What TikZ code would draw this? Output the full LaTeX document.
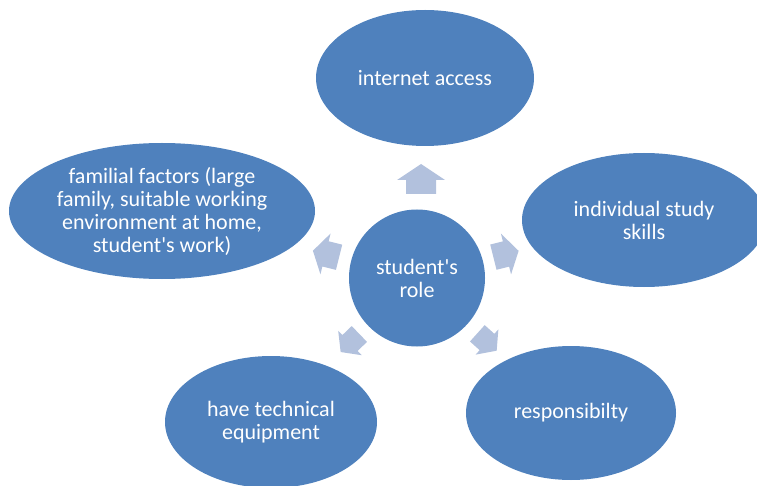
\documentclass[tikz,border=0pt]{standalone}
\usepackage{fontspec}
\setmainfont{Carlito}[Ligatures=TeXOff]
\usetikzlibrary{shapes.geometric}
\definecolor{ellblue}{RGB}{79,129,189}
\definecolor{arrblue}{RGB}{178,193,221}
\tikzset{
  bubble/.style={ellipse, fill=ellblue, draw=none, text=white, align=center,
    inner sep=0pt, font=\fontsize{22}{23}\selectfont},
  blockarrow/.style={fill=arrblue, draw=none}
}
% #1 centre, #2 angle, #3 length, #4 head width, #5 shaft width, #6 head length
\newcommand{\myblockarrow}[6]{%
  \begin{scope}[shift={#1}, rotate=#2]
    \fill[blockarrow] (-#3/2,-#5/2) -- (#3/2-#6,-#5/2) -- (#3/2-#6,-#4/2) -- (#3/2,0)
      -- (#3/2-#6,#4/2) -- (#3/2-#6,#5/2) -- (-#3/2,#5/2) -- cycle;
  \end{scope}}
\begin{document}
\begin{tikzpicture}[x=1pt,y=-1pt]
\useasboundingbox (0,0) rectangle (757,486);
\node[bubble, minimum width=218pt, minimum height=136pt] (internet) at (425,78) {internet access};
\node[bubble, minimum width=306pt, minimum height=136pt] (familial) at (162,211)
  {familial factors (large\\family, suitable working\\environment at home,\\student's work)};
\node[bubble, minimum width=244pt, minimum height=134pt] (individual) at (644,220) {individual study\\skills};
\node[bubble, minimum width=212pt, minimum height=132pt] (technical) at (271,422) {have technical\\equipment};
\node[bubble, minimum width=210pt, minimum height=134pt] (resp) at (571,413) {responsibilty};
\node[bubble, minimum width=136pt, minimum height=137pt] (role) at (417,278) {student's\\role};
\myblockarrow{(421,179)}{90}{30}{48}{30}{16}
\myblockarrow{(506,254)}{14}{26}{42}{26}{13}
\myblockarrow{(326,254)}{166}{27}{42}{26}{13}
\myblockarrow{(487,342)}{-42}{26}{34}{22}{13}
\myblockarrow{(350,343)}{-136}{26}{34}{22}{13}
\end{tikzpicture}
\end{document}
